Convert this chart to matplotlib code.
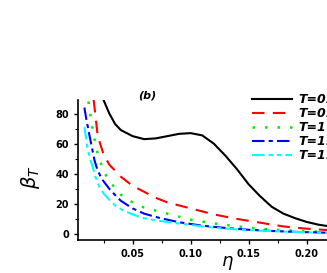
import matplotlib
matplotlib.use("Agg")
import matplotlib.pyplot as plt

# Data (eta vs beta_T)
# --------

x1 = [0.025, 0.03, 0.035, 0.04, 0.05, 0.06, 0.07, 0.08, 0.09, 0.10, 0.11, 0.12, 0.13, 0.14, 0.15, 0.16, 0.17, 0.18, 0.19, 0.20, 0.21, 0.22]
y1 = [89, 80, 73, 69, 65, 63, 63.5, 65, 66.5, 67, 65.5, 60, 52, 43, 33, 25, 18, 13.5, 10.5, 8, 6.2, 5]

x2 = [0.0165, 0.02, 0.025, 0.03, 0.04, 0.05, 0.06, 0.07, 0.08, 0.10, 0.12, 0.14, 0.16, 0.18, 0.20, 0.22]
y2 = [89, 65, 53, 46, 38, 32, 28, 24, 21, 17, 13, 10, 7.5, 5, 3.5, 2.5]

x3 = [0.012, 0.015, 0.0175, 0.02, 0.025, 0.03, 0.04, 0.05, 0.06, 0.08, 0.10, 0.12, 0.14, 0.16, 0.18, 0.20, 0.22]
y3 = [88, 72, 62, 53, 42, 35, 26, 21, 17.5, 13.5, 9.5, 7, 5, 3.5, 2.5, 1.8, 1.3]

x4 = [0.0085, 0.01, 0.013, 0.0172, 0.02, 0.024, 0.03, 0.036, 0.04, 0.05, 0.06, 0.073, 0.09, 0.11, 0.13, 0.15, 0.17, 0.19, 0.22]
y4 = [84, 77, 65, 49, 42, 36, 30, 25, 22, 17, 13.5, 10.7, 7.8, 5.5, 4, 2.8, 2, 1.4, 0.8]

x5 = [0.0085, 0.011, 0.013, 0.0155, 0.018, 0.0216, 0.025, 0.03, 0.035, 0.041, 0.05, 0.0586, 0.07, 0.08, 0.10, 0.12, 0.14, 0.16, 0.18, 0.20, 0.22]
y5 = [71, 58, 51, 45, 38, 31, 27, 22.7, 19, 16, 13, 10.7, 9, 8, 6, 4.2, 3, 2.2, 1.6, 1.1, 0.8]

# legend text is cut at the right edge of the reference image
labels = ["T=0.1", "T=0.5", "T=1", "T=1.5", "T=1.9"]

xticks = [0.05, 0.10, 0.15, 0.20]
yticks = [0, 20, 40, 60, 80]

# Draw Plot
# ---------

fig = plt.figure(figsize=(3.27, 2.73), dpi=100)
ax = fig.add_axes([78 / 327, 33 / 273, 249 / 327, 140 / 273])

ax.plot(x1, y1, color="black", lw=1.5, label=labels[0])
ax.plot(x2, y2, color="red", lw=1.5, dashes=(6, 4), label=labels[1])
ax.plot(x3, y3, color="#00ee00", lw=1.8, dashes=(1, 4), label=labels[2])
ax.plot(x4, y4, color="blue", lw=1.5, dashes=(6, 2, 2, 2), label=labels[3])
ax.plot(x5, y5, color="cyan", lw=1.5, dashes=(6, 2, 2, 2, 2, 2), label=labels[4])

ax.set_xlim(0.003, 0.2175)
ax.set_ylim(-4, 89)
ax.set_xticks(xticks)
ax.set_xticklabels(["%.2f" % v for v in xticks])
ax.set_yticks(yticks)
ax.set_xticks([0.025, 0.075, 0.125, 0.175], minor=True)
ax.set_yticks([10, 30, 50, 70], minor=True)
ax.tick_params(labelsize=7, width=1, length=3)
ax.tick_params(which="minor", length=2, width=0.8)
for lab in ax.get_xticklabels() + ax.get_yticklabels():
    lab.set_fontweight("bold")

ax.spines["top"].set_visible(False)
ax.spines["right"].set_visible(False)
ax.spines["left"].set_linewidth(1.2)
ax.spines["bottom"].set_linewidth(1.2)

fig.text(30 / 327, 1 - 177 / 273, r"$\beta_T$", fontsize=14, rotation=90, ha="center", va="center")
fig.text(227 / 327, 1 - 263 / 273, r"$\eta$", fontsize=13, ha="center", va="center")
fig.text(147 / 327, 1 - 95 / 273, "(b)", fontsize=8, fontweight="bold", fontstyle="italic", ha="center", va="center")

leg = fig.legend(loc="upper left", bbox_to_anchor=(246 / 327, 1 - 87 / 273), frameon=False,
                 borderpad=0, handlelength=3.2, handletextpad=0.5, labelspacing=0.08,
                 prop={"size": 9, "weight": "bold", "style": "italic"})

plt.savefig("out.png", dpi=100)
